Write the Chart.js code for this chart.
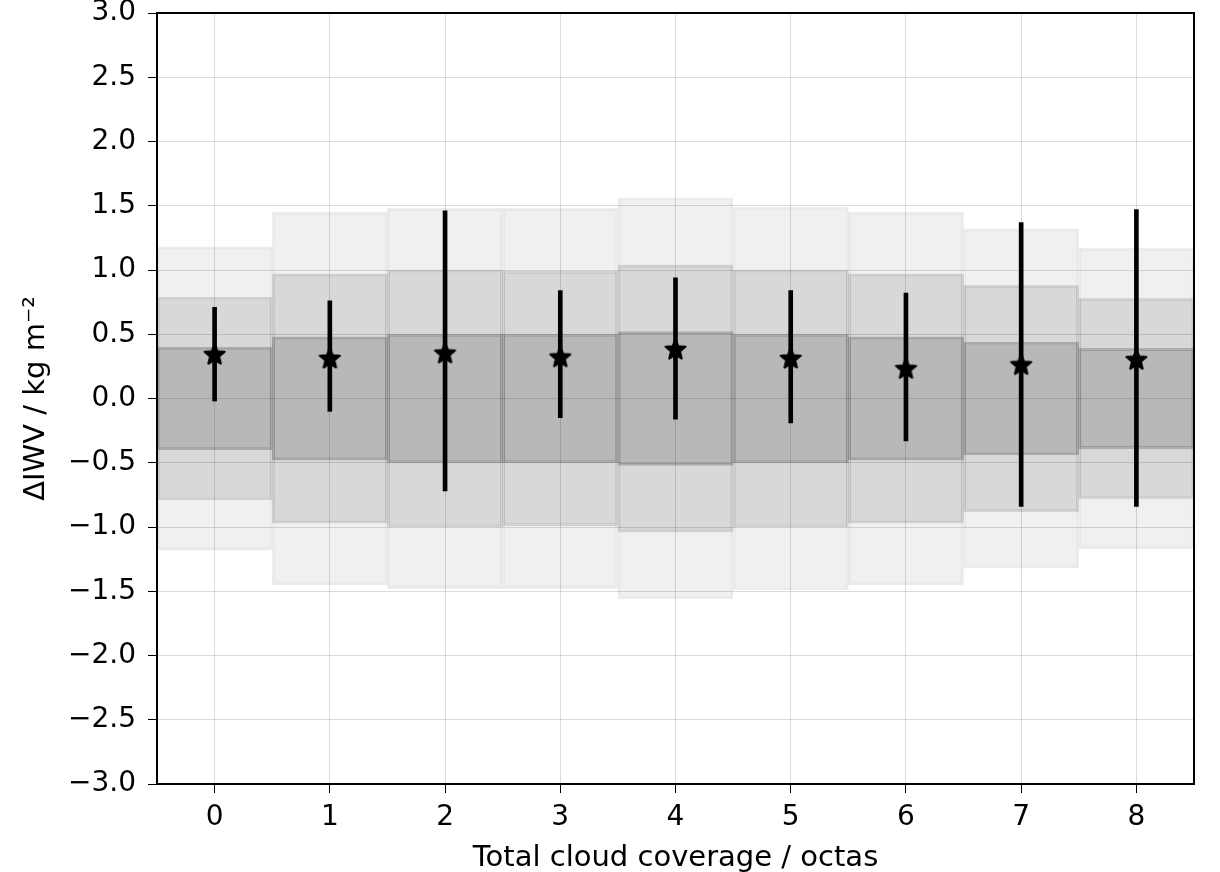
<!DOCTYPE html>
<html>
<head>
<meta charset="utf-8">
<script src="https://cdn.jsdelivr.net/npm/chart.js@4.4.0/dist/chart.umd.min.js"></script>
<style>
  html, body { margin: 0; padding: 0; background: #ffffff; }
  #wrap { width: 1220px; height: 872px; }
</style>
</head>
<body>
<div id="wrap"><canvas id="c" width="1220" height="872"></canvas></div>
<script>
const categories = [0, 1, 2, 3, 4, 5, 6, 7, 8];
const innerHalf  = [0.40, 0.48, 0.50, 0.50, 0.52, 0.50, 0.48, 0.44, 0.39];
const middleHalf = [0.79, 0.97, 1.00, 0.99, 1.04, 1.00, 0.97, 0.88, 0.78];
const outerHalf  = [1.18, 1.45, 1.48, 1.48, 1.56, 1.49, 1.45, 1.32, 1.17];
const medians    = [0.35, 0.32, 0.36, 0.33, 0.39, 0.32, 0.24, 0.27, 0.31];
const errLow     = [-0.02, -0.10, -0.72, -0.15, -0.16, -0.19, -0.33, -0.84, -0.84];
const errHigh    = [0.71, 0.76, 1.46, 0.84, 0.94, 0.84, 0.82, 1.37, 1.47];
const yTicks     = [-3.0, -2.5, -2.0, -1.5, -1.0, -0.5, 0.0, 0.5, 1.0, 1.5, 2.0, 2.5, 3.0];
const xLabel = 'Total cloud coverage / octas';
const yLabel = 'ΔIWV / kg m⁻²';

const FONT = "'DejaVu Sans', sans-serif";
const FS = 28;
const FT = 29;

function starImage(size) {
  const cv = document.createElement('canvas');
  cv.width = size; cv.height = size;
  const ctx = cv.getContext('2d');
  const cx = size / 2, cy = size / 2 + 1.5, R = size / 2 - 2, r = R * 0.44;
  ctx.beginPath();
  for (let i = 0; i < 10; i++) {
    const ang = -Math.PI / 2 + i * Math.PI / 5;
    const rad = i % 2 === 0 ? R : r;
    const px = cx + rad * Math.cos(ang), py = cy + rad * Math.sin(ang);
    if (i === 0) ctx.moveTo(px, py); else ctx.lineTo(px, py);
  }
  ctx.closePath();
  ctx.fillStyle = '#000';
  ctx.fill();
  ctx.lineJoin = 'round';
  ctx.lineWidth = 2.2;
  ctx.strokeStyle = '#000';
  ctx.stroke();
  return cv;
}
const star = starImage(25);

function band(half) {
  return categories.map((c, i) => ({ x: c, y: [-half[i], half[i]] }));
}

const frame = {
  id: 'frame',
  afterDatasetsDraw(chart) {
    const a = chart.chartArea, ctx = chart.ctx;
    ctx.save();
    ctx.strokeStyle = '#000';
    ctx.lineWidth = 2;
    ctx.strokeRect(a.left, a.top, a.right - a.left, a.bottom - a.top);
    ctx.restore();
  }
};

new Chart(document.getElementById('c'), {
  type: 'bar',
  data: {
    datasets: [
      { label: 'outer', data: band(outerHalf), backgroundColor: 'rgba(0,0,0,0.06)', borderColor: 'rgba(0,0,0,0.07)', borderWidth: 2, borderSkipped: false, grouped: false, categoryPercentage: 1, barPercentage: 1, order: 5 },
      { label: 'middle', data: band(middleHalf), backgroundColor: 'rgba(0,0,0,0.10)', borderColor: 'rgba(0,0,0,0.12)', borderWidth: 2, borderSkipped: false, grouped: false, categoryPercentage: 1, barPercentage: 1, order: 4 },
      { label: 'inner', data: band(innerHalf), backgroundColor: 'rgba(0,0,0,0.15)', borderColor: 'rgba(0,0,0,0.2)', borderWidth: 2, borderSkipped: false, grouped: false, categoryPercentage: 1, barPercentage: 1, order: 3 },
      { label: 'range', data: categories.map((c, i) => ({ x: c, y: [errLow[i], errHigh[i]] })), backgroundColor: '#000', borderWidth: 0, grouped: false, barThickness: 4, order: 2 },
      { type: 'scatter', label: 'median', data: categories.map((c, i) => ({ x: c, y: medians[i] })), pointStyle: star, pointRadius: 12, pointHoverRadius: 12, order: 1 }
    ]
  },
  options: {
    responsive: false,
    animation: false,
    layout: { padding: { left: 0, right: 26, top: 12, bottom: 0 } },
    plugins: { legend: { display: false }, tooltip: { enabled: false } },
    scales: {
      x: {
        type: 'linear',
        offset: false,
        min: -0.5, max: 8.5,
        afterBuildTicks(scale) { scale.ticks = categories.map(v => ({ value: v })); },
        afterFit(scale) { scale.height = 88; scale.paddingLeft = 0; scale.paddingRight = 0; },
        grid: { offset: false, color: 'rgba(0,0,0,0.14)', lineWidth: 1, tickColor: '#000', tickLength: 9, drawTicks: true },
        border: { display: false },
        ticks: { color: '#000', font: { family: FONT, size: FS }, padding: 8, callback: v => String(v), maxRotation: 0 },
        title: { display: true, text: xLabel, color: '#000', font: { family: FONT, size: FT, lineHeight: 0.9 }, padding: { top: 0, bottom: 0 } }
      },
      y: {
        type: 'linear',
        min: -3, max: 3,
        afterBuildTicks(scale) { scale.ticks = yTicks.map(v => ({ value: v })); },
        afterFit(scale) { scale.width = 157; scale.paddingTop = 0; scale.paddingBottom = 0; },
        grid: { color: 'rgba(0,0,0,0.14)', lineWidth: 1, tickColor: '#000', tickLength: 9, drawTicks: true },
        border: { display: false },
        ticks: { color: '#000', font: { family: FONT, size: FS }, padding: 12, callback: v => v.toFixed(1).replace('-', '\u2212') },
        title: { display: true, text: yLabel, color: '#000', font: { family: FONT, size: FT }, padding: { top: 19, bottom: 0 } }
      }
    }
  },
  plugins: [frame]
});
</script>
</body>
</html>
